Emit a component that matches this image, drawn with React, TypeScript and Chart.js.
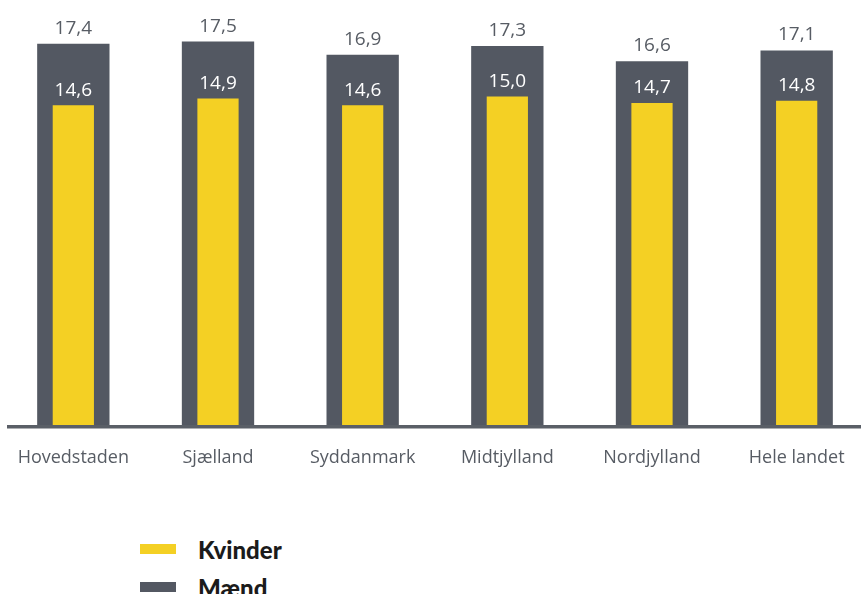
import React, { useEffect, useRef } from "react";
import { Chart, registerables } from "chart.js";

Chart.register(...registerables);

const categories = ["Hovedstaden", "Sjælland", "Syddanmark", "Midtjylland", "Nordjylland", "Hele landet"];
const kvinder = [14.6, 14.9, 14.6, 15.0, 14.7, 14.8];
const maend = [17.4, 17.5, 16.9, 17.3, 16.6, 17.1];
const seriesNames = ["Kvinder", "Mænd"];

const YELLOW = "#F4D024";
const GREY = "#535862";
const TEXT_GREY = "#575c64";

const fmt = (v: number) => v.toFixed(1).replace(".", ",");

const valueLabels = {
  id: "valueLabels",
  afterDatasetsDraw(chart: any) {
    const ctx = chart.ctx;
    ctx.save();
    ctx.font = "19px 'Open Sans'";
    ctx.textAlign = "center";
    ctx.textBaseline = "alphabetic";
    chart.data.datasets.forEach((ds: any, di: number) => {
      const meta = chart.getDatasetMeta(di);
      meta.data.forEach((el: any, i: number) => {
        const v = ds.data[i] as number;
        ctx.fillStyle = di === 0 ? "#ffffff" : TEXT_GREY;
        ctx.fillText(fmt(v), el.x, el.y - (di === 0 ? 9.5 : 10));
      });
    });
    ctx.restore();
  },
};

const axisLine = {
  id: "axisLine",
  afterDatasetsDraw(chart: any) {
    const ctx = chart.ctx;
    const b = chart.chartArea.bottom;
    ctx.save();
    ctx.fillStyle = "#5a5f67";
    ctx.fillRect(6, b, chart.width, 3.5);
    ctx.restore();
  },
};

export default function App() {
  const ref = useRef<HTMLCanvasElement | null>(null);

  useEffect(() => {
    if (!ref.current) return;
    const chart = new Chart(ref.current, {
      type: "bar",
      data: {
        labels: categories,
        datasets: [
          {
            label: seriesNames[0],
            data: kvinder,
            backgroundColor: YELLOW,
            barPercentage: 0.285,
            categoryPercentage: 1,
            grouped: false,
          } as any,
          {
            label: seriesNames[1],
            data: maend,
            backgroundColor: GREY,
            barPercentage: 0.5,
            categoryPercentage: 1,
            grouped: false,
          } as any,
        ],
      },
      options: {
        responsive: false,
        animation: false,
        layout: { padding: { top: 0, left: 0, right: 0, bottom: 6.4 } },
        plugins: {
          legend: { display: false },
          tooltip: { enabled: false },
        },
        scales: {
          x: {
            grid: { display: false },
            border: { display: false },
            ticks: {
              color: TEXT_GREY,
              padding: 14,
              font: { family: "'Open Sans'", size: 18 },
              maxRotation: 0,
              autoSkip: false,
            },
          },
          y: {
            display: false,
            min: 0,
            max: 19.4,
          },
        },
      },
      plugins: [valueLabels, axisLine],
    });
    return () => chart.destroy();
  }, []);

  const legendRow = (color: string, label: string, top: number) => (
    <div style={{ position: "absolute", left: 140, top, height: 40 }}>
      <div style={{ position: "absolute", left: 0, top: 6.3, width: 36, height: 10, background: color }} />
      <div
        style={{
          position: "absolute",
          left: 58,
          top: 0,
          fontFamily: "Lato",
          fontWeight: 900,
          fontSize: 24,
          lineHeight: "24px",
          color: "#1b1b1b",
          whiteSpace: "nowrap",
        }}
      >
        {label}
      </div>
    </div>
  );

  return (
    <div style={{ position: "absolute", left: 0, top: 0, width: 861, height: 594, overflow: "hidden", background: "#fff" }}>
      <canvas ref={ref} width={868} height={489} style={{ position: "absolute", left: 1, top: 0, display: "block" }} />
      {legendRow(YELLOW, seriesNames[0], 537.7)}
      {legendRow(GREY, seriesNames[1], 575.5)}
    </div>
  );
}
